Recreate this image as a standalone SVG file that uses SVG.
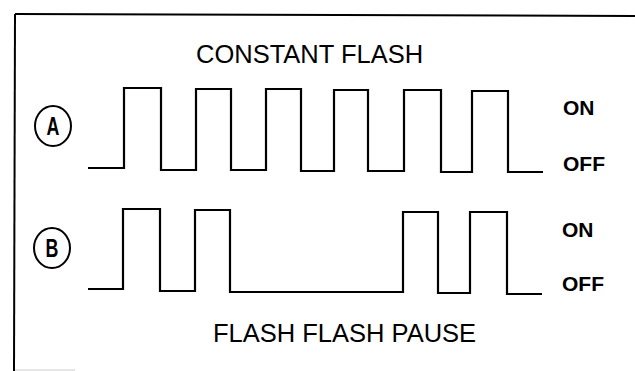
<svg xmlns="http://www.w3.org/2000/svg" width="635" height="371" viewBox="0 0 635 371">
  <style>
    .frame { fill: none; stroke: #000; stroke-width: 2; }
    .wave { fill: none; stroke: #000; stroke-width: 2.2; stroke-linejoin: miter; }
    .title { font-family: "Liberation Sans", Arial, sans-serif; font-size: 25.5px; fill: #000; }
    .state { font-family: "Liberation Sans", Arial, sans-serif; font-size: 21px; font-weight: bold; fill: #000; }
    .badge { fill: none; stroke: #000; stroke-width: 2; }
    .badgetext { font-family: "Liberation Sans", Arial, sans-serif; font-size: 21px; font-weight: bold; fill: #000; text-anchor: middle; }
  </style>
  <rect width="635" height="371" fill="#fff"/>
  <g id="frame">
    <path class="frame" d="M15,14 L635,16"/>
    <path class="frame" d="M15,14 L14,371"/>
    <path d="M15,370 H75" stroke="#ccc" stroke-width="1" fill="none"/>
  </g>
  <g id="title-constant">
    <text class="title" x="196" y="63">CONSTANT FLASH</text>
  </g>
  <g id="label-a">
    <ellipse class="badge" cx="53" cy="126" rx="18" ry="20"/>
    <text class="badgetext" transform="translate(53,135) scale(0.85,1.25)">A</text>
  </g>
  <g id="label-b">
    <ellipse class="badge" cx="52" cy="248" rx="18" ry="20"/>
    <text class="badgetext" transform="translate(52,257) scale(0.85,1.25)">B</text>
  </g>
  <g id="connectors">
    <path id="wave-a" class="wave" d="M88,168 H124 V88 H161 V170 H196 V89 H231 V170 H266 V89 H301 V171 H334 V90 H368 V171 H404 V90 H441 V172 H472 V91 H508 V172 H543"/>
    <path id="wave-b" class="wave" d="M88,289 H123 V209 H160 V291 H195 V210 H230 V292 H403 V212 H438 V293 H470 V212 H507 V294 H542"/>
  </g>
  <g id="states-a">
    <text class="state" x="563" y="115">ON</text>
    <text class="state" x="563" y="171">OFF</text>
  </g>
  <g id="states-b">
    <text class="state" x="562" y="237">ON</text>
    <text class="state" x="562" y="291">OFF</text>
  </g>
  <g id="title-pause">
    <text class="title" x="213" y="342">FLASH FLASH PAUSE</text>
  </g>
</svg>
